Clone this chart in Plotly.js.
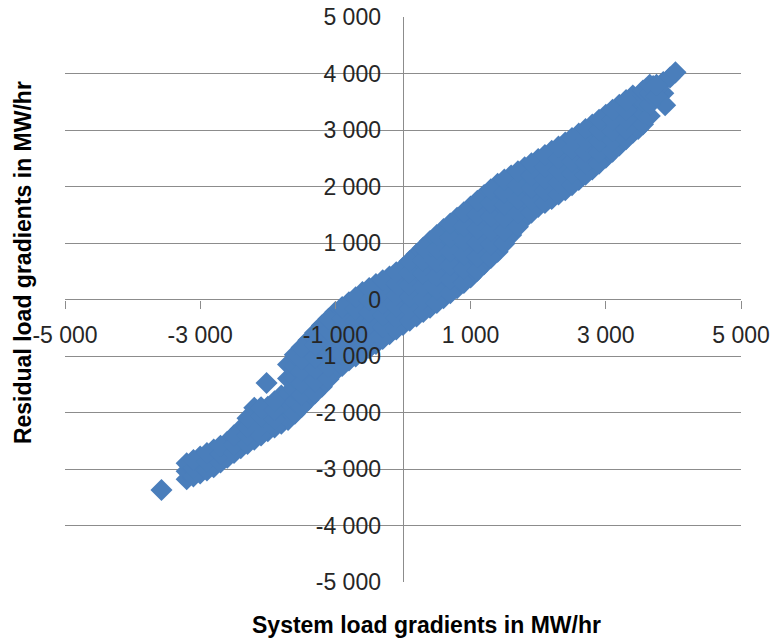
<!DOCTYPE html>
<html><head><meta charset="utf-8">
<script src="https://cdn.plot.ly/plotly-3.0.1.min.js"></script>
<style>html,body{margin:0;padding:0;background:#fff}#chart{width:773px;height:640px}</style>
</head><body><div id="chart"></div>
<script>
// System load gradients (MW/hr) — x values, one row per column of points
const systemGradient = [
  -3573,
  -3200,-3200,-3200,
  -3000,-3000,-3000,
  -2800,-2800,-2800,
  -2600,-2600,-2600,
  -2400,-2400,-2400,
  -2200,-2200,-2200,-2200,
  -2018,
  -2000,-2000,-2000,-2000,
  -1800,-1800,-1800,-1800,
  -1700,-1700,-1700,-1700,-1700,
  -1600,-1600,-1600,-1600,-1600,-1600,
  -1400,-1400,-1400,-1400,-1400,-1400,
  -1200,-1200,-1200,-1200,-1200,-1200,
  -1000,-1000,-1000,-1000,-1000,-1000,
  -800,-800,-800,-800,-800,-800,
  -600,-600,-600,-600,-600,-600,
  -400,-400,-400,-400,-400,-400,
  -200,-200,-200,-200,-200,-200,
  0,0,0,0,0,0,
  200,200,200,200,200,200,
  400,400,400,400,400,400,
  600,600,600,600,600,600,
  800,800,800,800,800,800,
  1000,1000,1000,1000,1000,1000,
  1200,1200,1200,1200,1200,1200,
  1400,1400,1400,1400,1400,1400,
  1600,1600,1600,1600,1600,1600,
  1800,1800,1800,1800,1800,
  2000,2000,2000,2000,2000,
  2200,2200,2200,2200,2200,
  2400,2400,2400,2400,2400,
  2600,2600,2600,2600,2600,
  2800,2800,2800,2800,2800,
  3000,3000,3000,3000,3000,
  3200,3200,3200,3200,3200,
  3400,3400,3400,3400,
  3478,
  3550,3550,3550,3550,
  3700,
  3850,3850,
  3878,
  3950,
  4030,
  // in-between columns
  -3100,-3100,-3100,
  -2900,-2900,-2900,
  -2700,-2700,-2700,
  -2500,-2500,-2500,
  -2300,-2300,-2300,-2300,
  -2100,-2100,-2100,-2100,
  -1900,-1900,-1900,-1900,
  -1500,-1500,-1500,-1500,-1500,-1500,
  -1300,-1300,-1300,-1300,-1300,-1300,
  -1100,-1100,-1100,-1100,-1100,-1100,
  -900,-900,-900,-900,-900,-900,
  -700,-700,-700,-700,-700,-700,
  -500,-500,-500,-500,-500,-500,
  -300,-300,-300,-300,-300,-300,
  -100,-100,-100,-100,-100,-100,
  100,100,100,100,100,100,
  300,300,300,300,300,300,
  500,500,500,500,500,500,
  700,700,700,700,700,700,
  900,900,900,900,900,900,
  1100,1100,1100,1100,1100,1100,
  1300,1300,1300,1300,1300,1300,
  1500,1500,1500,1500,1500,1500,
  1700,1700,1700,1700,1700,
  1900,1900,1900,1900,1900,
  2100,2100,2100,2100,2100,
  2300,2300,2300,2300,2300,
  2500,2500,2500,2500,2500,
  2700,2700,2700,2700,2700,
  2900,2900,2900,2900,2900,
  3100,3100,3100,3100,3100,
  3300,3300,3300,3300,3300,
  3650,3650,3650,3650,
  3750,3750
];
// Residual load gradients (MW/hr) — y values, same row layout
const residualGradient = [
  -3372,
  -3180,-3040,-2900,
  -3080,-2930,-2780,
  -2970,-2810,-2655,
  -2800,-2660,-2520,
  -2630,-2460,-2290,
  -2480,-2290,-2100,-1915,
  -1478,
  -2330,-2180,-2040,-1900,
  -2200,-2030,-1860,-1700,
  -2130,-1900,-1660,-1400,-1150,
  -2020,-1810,-1600,-1390,-1180,-980,
  -1780,-1570,-1360,-1140,-930,-720,
  -1545,-1330,-1110,-900,-680,-460,
  -1270,-1060,-850,-640,-430,-220,
  -1080,-870,-670,-460,-250,-50,
  -940,-730,-520,-300,-90,130,
  -785,-570,-360,-150,60,275,
  -615,-410,-200,0,200,405,
  -450,-250,-45,155,360,560,
  -300,-80,140,360,580,800,
  -145,90,330,560,800,1035,
  25,270,520,760,1000,1245,
  200,450,700,950,1200,1445,
  390,640,890,1140,1390,1645,
  625,870,1115,1360,1605,1850,
  845,1085,1325,1570,1810,2050,
  1140,1350,1560,1775,1985,2195,
  1435,1660,1890,2115,2340,
  1640,1850,2065,2275,2485,
  1780,1995,2205,2420,2630,
  1935,2145,2355,2565,2780,
  2115,2320,2525,2730,2935,
  2300,2500,2700,2900,3095,
  2510,2700,2890,3080,3270,
  2725,2905,3085,3265,3445,
  2950,3170,3390,3610,
  3018,
  3100,3300,3500,3700,
  3780,
  3650,3850,
  3440,
  3930,
  4020,
  // in-between columns
  -3130,-2985,-2840,
  -3025,-2870,-2718,
  -2885,-2735,-2588,
  -2715,-2560,-2405,
  -2555,-2400,-2250,-2100,
  -2405,-2240,-2075,-1908,
  -2265,-2110,-1955,-1800,
  -1900,-1690,-1480,-1270,-1060,-850,
  -1660,-1445,-1230,-1020,-805,-590,
  -1408,-1195,-980,-767,-553,-340,
  -1175,-967,-760,-550,-343,-135,
  -1010,-800,-590,-380,-170,40,
  -862,-650,-437,-225,-12,202,
  -700,-492,-284,-76,132,340,
  -532,-329,-126,77,280,482,
  -375,-164,47,258,469,680,
  -222,6,234,462,690,918,
  -60,180,420,660,900,1140,
  112,359,605,852,1098,1345,
  295,545,795,1045,1295,1545,
  508,756,1004,1252,1500,1748,
  735,978,1221,1464,1707,1950,
  992,1218,1444,1670,1896,2122,
  1288,1533,1778,2023,2268,
  1538,1756,1975,2193,2412,
  1710,1922,2134,2346,2558,
  1858,2070,2282,2494,2705,
  2025,2233,2441,2650,2858,
  2208,2410,2612,2813,3015,
  2405,2600,2794,2988,3182,
  2618,2803,2988,3173,3358,
  2838,3010,3183,3355,3528,
  3250,3450,3650,3800,
  3600,3800
];
const xTickValues = [-5000,-3000,-1000,1000,3000,5000];
const xTickLabels = ['-5 000','-3 000','-1 000','1 000','3 000','5 000'];
const yTickValues = [-5000,-4000,-3000,-2000,-1000,0,1000,2000,3000,4000,5000];
const yTickLabels = ['-5 000','-4 000','-3 000','-2 000','-1 000','0','1 000','2 000','3 000','4 000','5 000'];
const xTitle = 'System load gradients in MW/hr';
const yTitle = 'Residual load gradients in MW/hr';

const axisGray = '#8c8c8c';
const tickFont = {family: 'Liberation Sans, Arial, sans-serif', size: 23, color: '#262626'};
const titleFont = {family: 'Liberation Sans, Arial, sans-serif', size: 23, color: '#000000', weight: 'bold'};

const trace = {
  type: 'scatter', mode: 'markers',
  x: systemGradient, y: residualGradient,
  marker: {symbol: 'diamond', size: 17, color: '#4a7ebb', line: {width: 0}},
  hoverinfo: 'skip', showlegend: false
};

const layout = {
  width: 773, height: 640,
  margin: {l: 65, r: 32, t: 17, b: 58, pad: 0},
  paper_bgcolor: '#ffffff', plot_bgcolor: '#ffffff',
  showlegend: false,
  xaxis: {
    range: [-5000, 5000], domain: [0, 1], anchor: 'free', position: 0.5,
    showgrid: false, zeroline: true, zerolinecolor: axisGray, zerolinewidth: 1,
    showline: false, ticks: 'outside', ticklen: 8, tickwidth: 1, tickcolor: axisGray,
    tickvals: xTickValues, ticktext: xTickLabels, tickfont: tickFont,
    ticklabelstandoff: 7, fixedrange: true
  },
  yaxis: {
    range: [-5000, 5000], domain: [0, 1], anchor: 'free', position: 0.5,
    showgrid: true, gridcolor: axisGray, gridwidth: 1,
    zeroline: true, zerolinecolor: axisGray, zerolinewidth: 1,
    showline: false, ticks: '',
    tickvals: yTickValues, ticktext: yTickLabels, tickfont: tickFont,
    ticklabelstandoff: 22, fixedrange: true
  },
  annotations: [
    {text: xTitle, xref: 'paper', yref: 'paper', x: 0.5355, y: -0.076,
     xanchor: 'center', yanchor: 'middle', showarrow: false, font: titleFont},
    {text: yTitle, xref: 'paper', yref: 'paper', x: -0.062, y: 0.5646,
     xanchor: 'center', yanchor: 'middle', textangle: -90, showarrow: false, font: titleFont}
  ]
};

Plotly.newPlot('chart', [trace], layout, {displayModeBar: false, staticPlot: true});
</script></body></html>
